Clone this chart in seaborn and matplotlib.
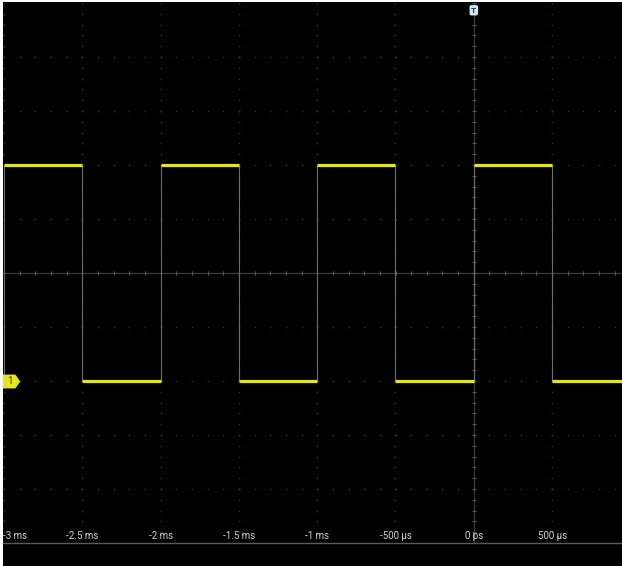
import numpy as np
import pandas as pd
import matplotlib
matplotlib.use('Agg')
import matplotlib.pyplot as plt
from matplotlib.path import Path
import seaborn as sns

# Square wave, 1 kHz (time in ms, level in divisions)
edge_times_ms = [-3.0, -2.5, -2.0, -1.5, -1.0, -0.5, 0.0, 0.5]
levels_div = [2, -2, 2, -2, 2, -2, 2, -2]
trace_end_ms = 0.95
channel_offset_div = -2

tick_times_ms = [-3.0, -2.5, -2.0, -1.5, -1.0, -0.5, 0.0, 0.5]
tick_labels = ['-3 ms', '-2.5 ms', '-2 ms', '-1.5 ms', '-1 ms', '-500 µs', '0 ps', '500 µs']

yellow = '#e6e41e'
grid_col = '#303030'

sns.set_style('dark')
plt.rcParams['font.family'] = ['Roboto', 'DejaVu Sans']

# one row per point, one segment per flat part of the trace
ends = edge_times_ms[1:] + [trace_end_ms]
rows = []
for i, (t0, t1, v) in enumerate(zip(edge_times_ms, ends, levels_div)):
    rows.append({'t': t0, 'v': v, 'seg': i})
    rows.append({'t': t1, 'v': v, 'seg': i})
trace = pd.DataFrame(rows)

W, H = 622, 566
fig = plt.figure(figsize=(W / 100, H / 100), dpi=100, facecolor='white')

# black screen behind everything
bg = fig.add_axes([3 / W, 0, (W - 3) / W, (H - 2) / H])
bg.set_facecolor('black')
bg.set_xticks([])
bg.set_yticks([])
for s in bg.spines.values():
    s.set_visible(False)

ax = fig.add_axes([3 / W, 23 / H, (W - 3) / W, 540 / H])
ax.set_facecolor('black')
px_per_ms = 156.6
ax.set_xlim(-3 - 1 / px_per_ms, -3 + 618 / px_per_ms)
ax.set_ylim(-5, 5)
ax.grid(False)

# graticule: dotted major lines, solid centre cross with tick marks
minor_x = np.arange(-3.0, 0.96, 0.1)
minor_y = np.arange(-5.0, 5.01, 0.2)
for yv in [-4, -3, -2, -1, 1, 2, 3, 4]:
    ax.plot(minor_x, np.full_like(minor_x, yv), ls='none', marker='s', ms=1.1,
            mec='none', mfc=grid_col, zorder=1)
for xv in [-3.0, -2.5, -2.0, -1.5, -1.0, -0.5, 0.5]:
    ax.plot(np.full_like(minor_y, xv), minor_y, ls='none', marker='s', ms=1.1,
            mec='none', mfc=grid_col, zorder=1)
ax.axhline(0, color='#3c3c3c', lw=0.9, zorder=1)
ax.axvline(0, color='#3c3c3c', lw=0.9, zorder=1)
ax.plot(minor_x, np.zeros_like(minor_x), ls='none', marker='|', ms=3,
        mew=0.8, color='#555555', zorder=1)
ax.plot(np.zeros_like(minor_y), minor_y, ls='none', marker='_', ms=3,
        mew=0.8, color='#555555', zorder=1)

# edges are fast, so they show only as faint grey lines
ax.vlines(edge_times_ms, -2, 2, color='#6e6e6e', lw=0.8, zorder=2)
sns.lineplot(data=trace, x='t', y='v', units='seg', estimator=None,
             color=yellow, lw=2.3, ax=ax, zorder=3, legend=False,
             solid_capstyle='butt')

ax.set_xticks([])
ax.set_yticks([])
ax.set_xlabel('')
ax.set_ylabel('')
for side in ['top', 'left', 'right']:
    ax.spines[side].set_visible(False)
ax.spines['bottom'].set_color('#5a5a5a')
ax.spines['bottom'].set_linewidth(1.0)

for i, (t, lab) in enumerate(zip(tick_times_ms, tick_labels)):
    ax.text(ax.get_xlim()[0] if i == 0 else t, -4.87, lab,
            ha='left' if i == 0 else 'center', va='center',
            color='#d2d2d2', fontsize=7)

# channel 1 marker: flag pointing right at the channel's ground level
flag = Path([(-1, -0.8), (0.45, -0.8), (1, 0), (0.45, 0.8), (-1, 0.8), (-1, -0.8)],
            [Path.MOVETO] + [Path.LINETO] * 4 + [Path.CLOSEPOLY])
flag_x = ax.get_xlim()[0] + 8 / px_per_ms
ax.plot([flag_x], [channel_offset_div], marker=flag, ms=12.5, mfc=yellow,
        mec='none', ls='none', zorder=5, clip_on=False)
ax.text(flag_x - 1.5 / px_per_ms, channel_offset_div, '1', ha='center', va='center',
        fontsize=7, color='#3a3a00', zorder=6)

# trigger marker at t = 0
ax.text(0, 4.93, 'T', ha='center', va='top', fontsize=6, color='#1c3a55',
        fontweight='bold', clip_on=False,
        bbox=dict(boxstyle='round,pad=0.2', fc='#cfe7f5', ec='none'), zorder=5)

fig.savefig('out.png', dpi=100, facecolor=fig.get_facecolor())
